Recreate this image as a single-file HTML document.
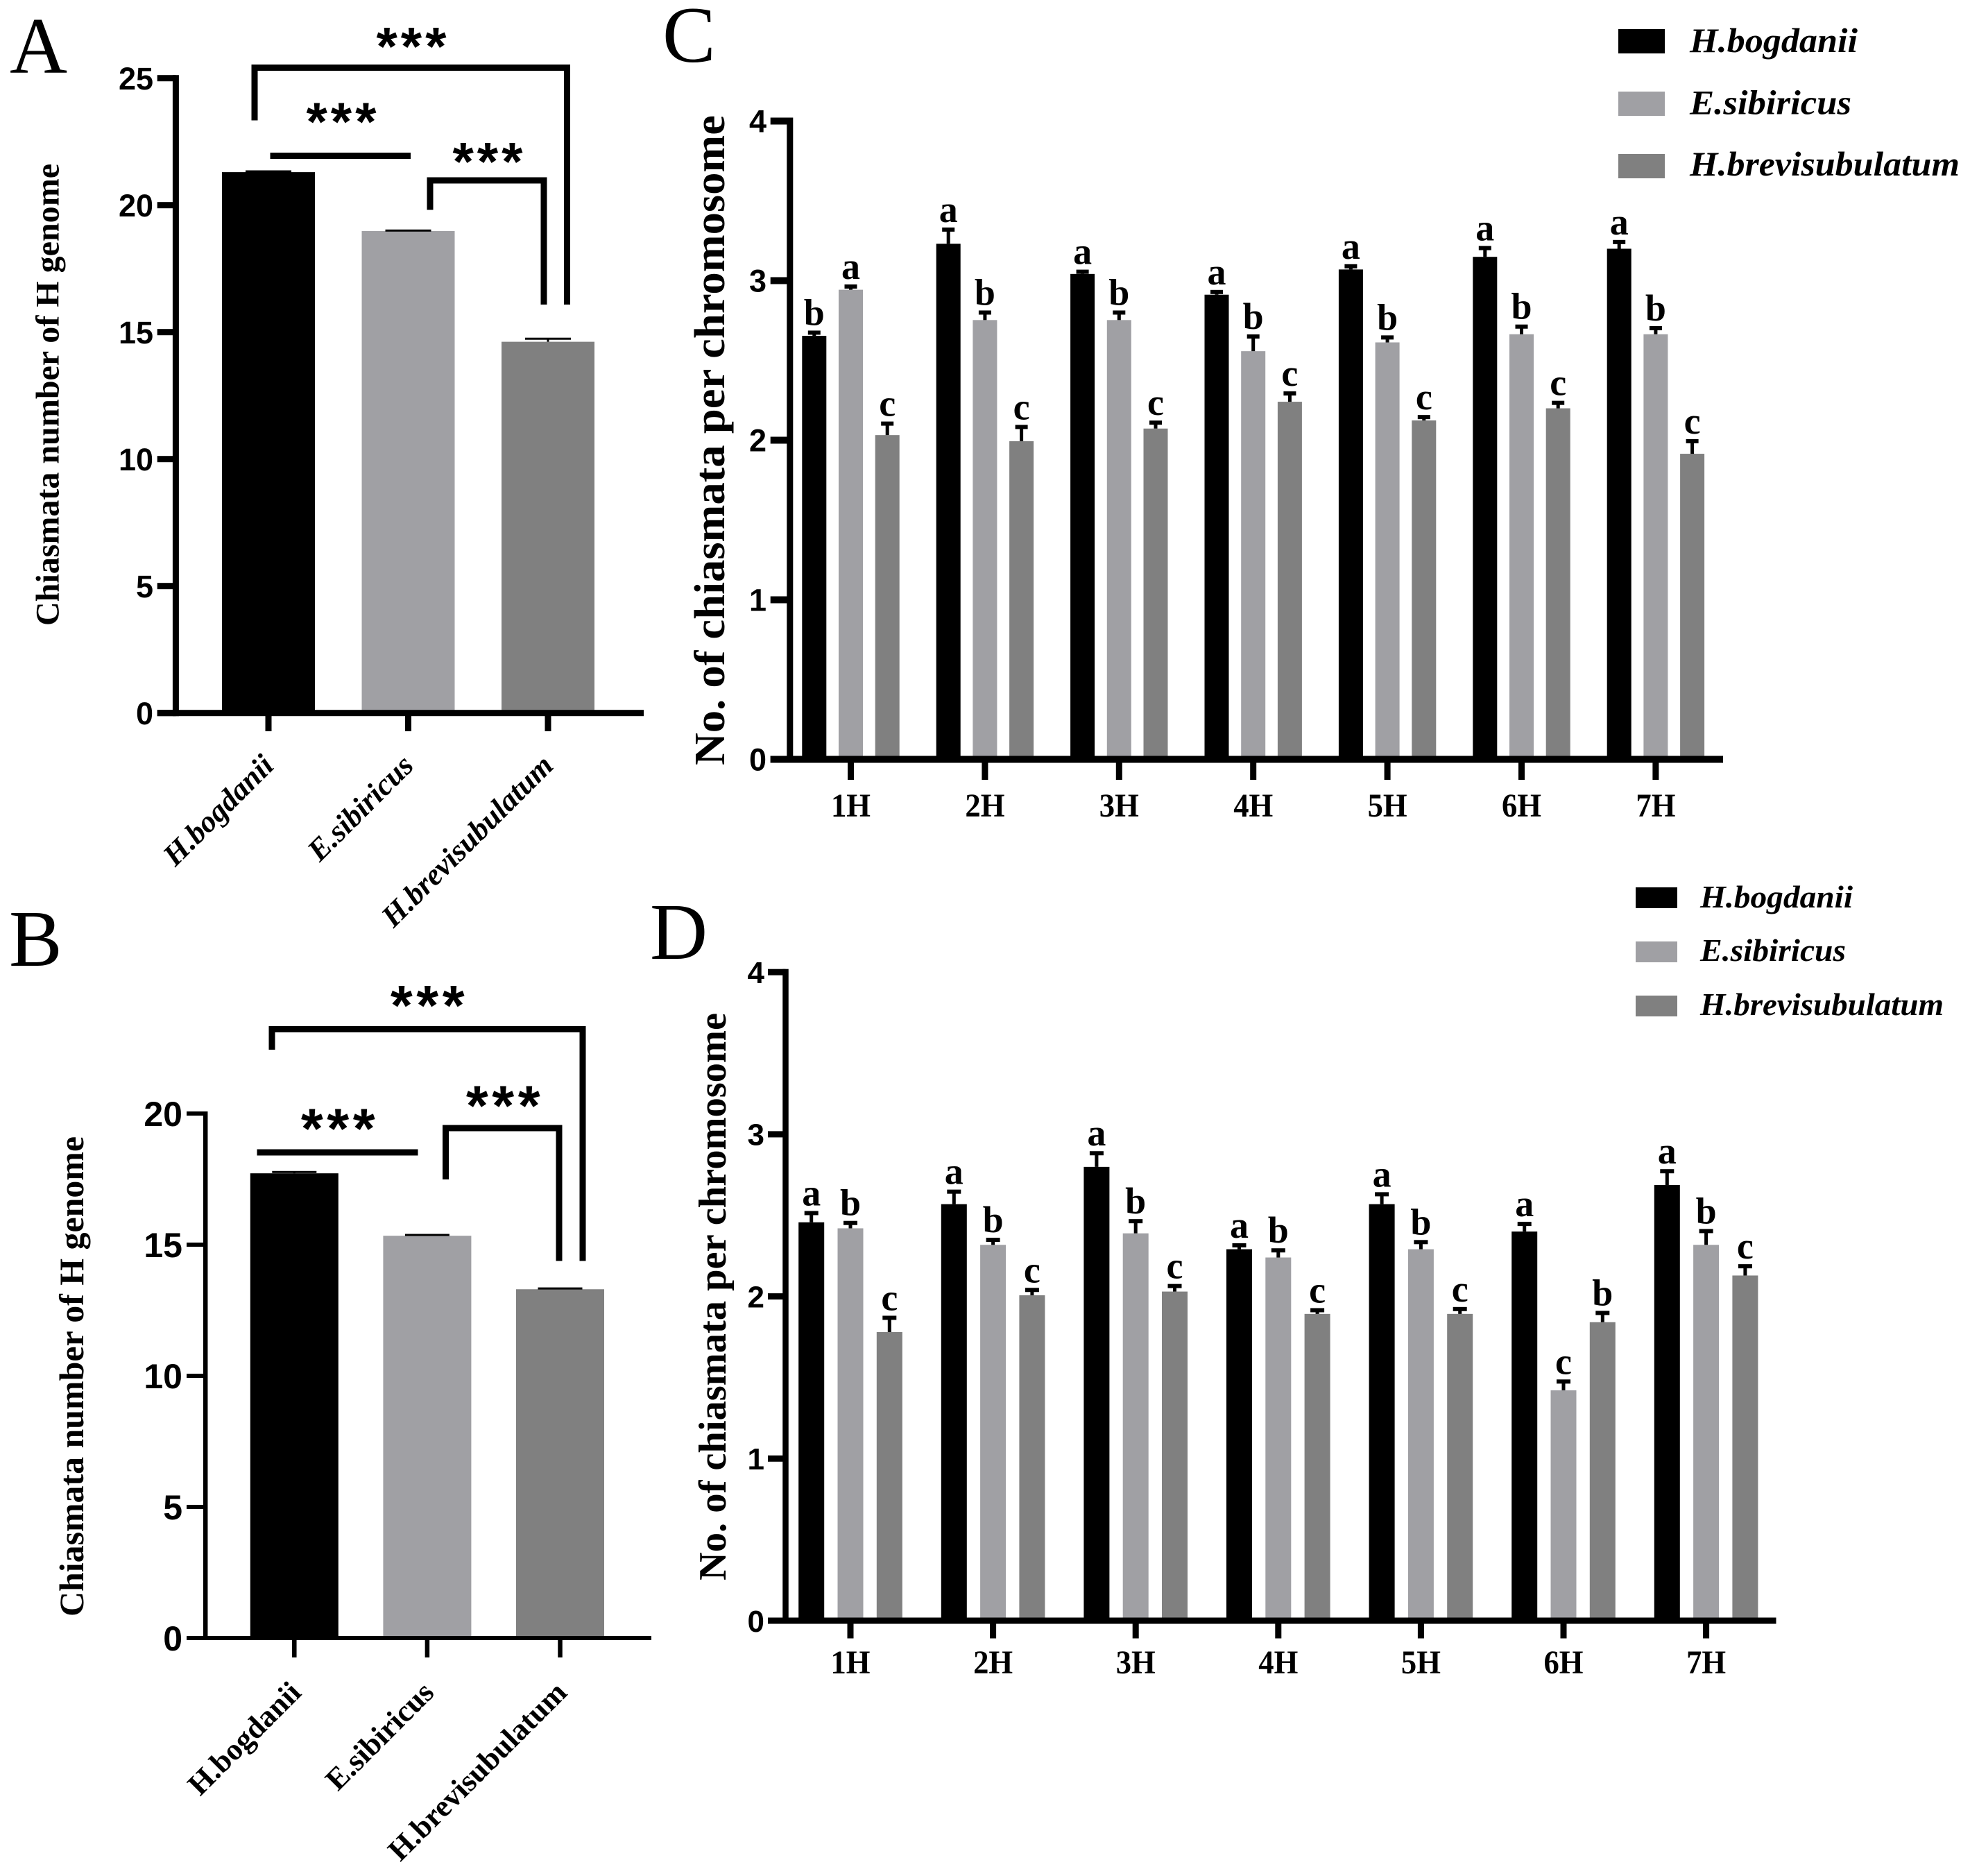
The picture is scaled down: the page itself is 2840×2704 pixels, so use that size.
<!DOCTYPE html>
<html lang="en">
<head>
<meta charset="utf-8">
<title>Chiasmata number charts</title>
<style>
html,body{margin:0;padding:0;background:#fff;}
svg{display:block;}
.serif{font-family:"Liberation Serif",serif;}
.sans{font-family:"Liberation Sans",sans-serif;}
.bold{font-weight:bold;}
.ital{font-style:italic;}
</style>
</head>
<body>
<svg id="figure" xmlns="http://www.w3.org/2000/svg" width="2840" height="2704" viewBox="0 0 2840 2704">
  <rect x="0" y="0" width="2840" height="2704" fill="#ffffff"/>

  <g id="panelA"></g>
  <g id="panelB"></g>
  <g id="panelC"></g>
  <g id="panelD"></g>

  <g class="serif" font-size="115" fill="#000">
    <text x="14" y="105">A</text>
    <text x="13" y="1392">B</text>
    <text x="955" y="89">C</text>
    <text x="937" y="1382">D</text>
  </g>

  <g class="serif bold" fill="#000">
    <text transform="translate(84.5 902) rotate(-90)" font-size="48" textLength="666" lengthAdjust="spacingAndGlyphs">Chiasmata number of H genome</text>
    <text transform="translate(120 2330) rotate(-90)" font-size="50" textLength="692" lengthAdjust="spacingAndGlyphs">Chiasmata number of H genome</text>
    <text transform="translate(1044 1103) rotate(-90)" font-size="62" textLength="937" lengthAdjust="spacingAndGlyphs">No. of chiasmata per chromosome</text>
    <text transform="translate(1046 2278) rotate(-90)" font-size="56" textLength="818" lengthAdjust="spacingAndGlyphs">No. of chiasmata per chromosome</text>
  </g>

  <g fill="none" stroke="#000" stroke-width="9">
    <path d="M367 173.5V97.5H817.5V439"/>
    <path d="M389.5 224.5H592"/>
    <path d="M620 302.5V260H784V439"/>
  </g>
  <g class="sans bold" font-size="78" letter-spacing="5" text-anchor="middle" fill="#000">
    <text x="595.5" y="93.5">***</text>
    <text x="494.5" y="202">***</text>
    <text x="705.5" y="259.5">***</text>
  </g>

  <g fill="none" stroke="#000" stroke-width="9">
    <path d="M392 1513V1483.5H840V1817.5"/>
    <path d="M370.5 1661H602.5"/>
    <path d="M642.5 1700V1626H806V1817.5"/>
  </g>
  <g class="sans bold" font-size="82" letter-spacing="5.5" text-anchor="middle" fill="#000">
    <text x="619" y="1477.5">***</text>
    <text x="490" y="1655">***</text>
    <text x="728" y="1622">***</text>
  </g>

  <g>
    <rect x="2333" y="42" width="67" height="35" fill="#000000"/>
    <rect x="2333" y="132" width="67" height="35" fill="#a0a0a4"/>
    <rect x="2333" y="222" width="67" height="35" fill="#808080"/>
    <g class="serif bold ital" font-size="50" fill="#000">
      <text x="2436" y="75" textLength="242" lengthAdjust="spacingAndGlyphs">H.bogdanii</text>
      <text x="2436" y="164.5" textLength="233" lengthAdjust="spacingAndGlyphs">E.sibiricus</text>
      <text x="2436" y="253" textLength="389" lengthAdjust="spacingAndGlyphs">H.brevisubulatum</text>
    </g>
  </g>

  <g>
    <rect x="2358" y="1279" width="60" height="30" fill="#000000"/>
    <rect x="2358" y="1357" width="60" height="30" fill="#a0a0a4"/>
    <rect x="2358" y="1435" width="60" height="30" fill="#808080"/>
    <g class="serif bold ital" font-size="46" fill="#000">
      <text x="2451" y="1308" textLength="220" lengthAdjust="spacingAndGlyphs">H.bogdanii</text>
      <text x="2451" y="1385" textLength="210" lengthAdjust="spacingAndGlyphs">E.sibiricus</text>
      <text x="2451" y="1463" textLength="351" lengthAdjust="spacingAndGlyphs">H.brevisubulatum</text>
    </g>
  </g>
</svg>

<script>
// ---- Panel A data ----
const speciesNames = ['H.bogdanii', 'E.sibiricus', 'H.brevisubulatum'];
const speciesColors = ['#000000', '#a0a0a4', '#808080'];
const aValues = [21.3, 18.98, 14.62];
const aErrors = [0.03, 0.02, 0.12];
const aTicks = [0, 5, 10, 15, 20, 25];

// ---- Panel B data ----
const bValues = [17.72, 15.34, 13.3];
const bErrors = [0.05, 0.03, 0.03];
const bTicks = [0, 5, 10, 15, 20];

// ---- Panel C data ----
const chromosomes = ['1H', '2H', '3H', '4H', '5H', '6H', '7H'];
const groupTicks = [0, 1, 2, 3, 4];
const cBogdanii = [2.654, 3.231, 3.042, 2.912, 3.07, 3.149, 3.2];
const cSibiricus = [2.943, 2.753, 2.753, 2.558, 2.613, 2.664, 2.664];
const cBrevi = [2.032, 1.994, 2.073, 2.241, 2.124, 2.2, 1.915];
const cBogdaniiErr = [0.02, 0.089, 0.014, 0.017, 0.02, 0.055, 0.042];
const cSibiricusErr = [0.02, 0.047, 0.047, 0.092, 0.031, 0.048, 0.038];
const cBreviErr = [0.072, 0.089, 0.037, 0.052, 0.021, 0.034, 0.079];
const cBogdaniiLetters = ['b', 'a', 'a', 'a', 'a', 'a', 'a'];
const cSibiricusLetters = ['a', 'b', 'b', 'b', 'b', 'b', 'b'];
const cBreviLetters = ['c', 'c', 'c', 'c', 'c', 'c', 'c'];

// ---- Panel D data ----
const dBogdanii = [2.457, 2.569, 2.799, 2.291, 2.569, 2.4, 2.687];
const dSibiricus = [2.42, 2.318, 2.389, 2.24, 2.291, 1.421, 2.318];
const dBrevi = [1.78, 2.007, 2.03, 1.892, 1.892, 1.841, 2.129];
const dBogdaniiErr = [0.057, 0.077, 0.084, 0.024, 0.061, 0.047, 0.085];
const dSibiricusErr = [0.033, 0.031, 0.075, 0.044, 0.044, 0.054, 0.085];
const dBreviErr = [0.088, 0.033, 0.034, 0.023, 0.03, 0.057, 0.057];
const dBogdaniiLetters = ['a', 'a', 'a', 'a', 'a', 'a', 'a'];
const dSibiricusLetters = ['b', 'b', 'b', 'b', 'b', 'c', 'b'];
const dBreviLetters = ['c', 'c', 'c', 'c', 'c', 'b', 'c'];

const NS = 'http://www.w3.org/2000/svg';

function make(parent, tag, attrs, text) {
  const node = document.createElementNS(NS, tag);
  for (const k in attrs) node.setAttribute(k, attrs[k]);
  if (text !== undefined) node.textContent = text;
  parent.appendChild(node);
  return node;
}

function drawAxes(g, id, L, ticks, scaleY) {
  const yAxis = make(g, 'rect', {
    x: L.axisX - L.axisW / 2,
    y: scaleY(ticks[ticks.length - 1]) - L.axisH / 2,
    width: L.axisW,
    height: scaleY(0) - scaleY(ticks[ticks.length - 1]) + L.axisH,
    fill: '#000'
  });
  
  

  const xAxis = make(g, 'rect', {
    x: L.tickLeft,
    y: scaleY(0) - L.axisH / 2,
    width: L.axisRight - L.tickLeft,
    height: L.axisH,
    fill: '#000'
  });
  
  

  ticks.forEach(function (t) {
    const mark = make(g, 'rect', {
      x: L.tickLeft,
      y: scaleY(t) - L.axisH / 2,
      width: L.axisX - L.tickLeft,
      height: L.axisH,
      fill: '#000'
    });
    
    

    const label = make(g, 'text', {
      x: L.labelRight,
      y: scaleY(t) + L.tickFont * 0.36,
      'text-anchor': 'end',
      'font-size': L.tickFont,
      'font-weight': 'bold',
      'font-family': '"Liberation Sans", sans-serif',
      fill: '#000'
    }, String(t));
    
    
  });
}

function drawBar(g, name, cx, width, value, error, color, capW, capH, stemW, scaleY) {
  const bar = make(g, 'rect', {
    x: cx - width / 2,
    y: scaleY(value),
    width: width,
    height: scaleY(0) - scaleY(value),
    fill: color
  });
  
  

  const stem = make(g, 'rect', {
    x: cx - stemW / 2,
    y: scaleY(value + error),
    width: stemW,
    height: scaleY(value) - scaleY(value + error),
    fill: '#000'
  });
  
  

  const cap = make(g, 'rect', {
    x: cx - capW / 2,
    y: scaleY(value + error) - capH / 2,
    width: capW,
    height: capH,
    fill: '#000'
  });
  
  
}

function drawSimple(id, L, values, errors, ticks) {
  const g = document.getElementById('panel' + id.toUpperCase());
  const scaleY = function (v) { return L.y0 - v * L.unit; };
  const scaleX = function (i) { return L.x0 + i * L.step; };

  values.forEach(function (v, i) {
    drawBar(g, id + '-' + speciesNames[i], scaleX(i), L.barW, v, errors[i], speciesColors[i], L.capW, 3, 3, scaleY);
  });
  drawAxes(g, id, L, ticks, scaleY);

  speciesNames.forEach(function (name, i) {
    const t = make(g, 'rect', {
      x: scaleX(i) - L.axisW / 2,
      y: L.y0,
      width: L.axisW,
      height: L.tickBottom - L.y0,
      fill: '#000'
    });
    
    

    const lx = scaleX(i) + L.catDx;
    const label = make(g, 'text', {
      transform: 'translate(' + lx + ' ' + L.catY + ') rotate(-45)',
      'text-anchor': 'end',
      'font-size': L.catFont,
      'font-weight': 'bold',
      'font-style': L.catStyle,
      'font-family': '"Liberation Serif", serif',
      fill: '#000'
    }, name);
    
    
  });
}

function drawGrouped(id, L, series, errs, letters) {
  const g = document.getElementById('panel' + id.toUpperCase());
  const scaleY = function (v) { return L.y0 - v * L.unit; };
  const scaleX = function (i) { return L.x0 + i * L.step; };

  series.forEach(function (vals, s) {
    vals.forEach(function (v, i) {
      const cx = scaleX(i) + (s - 1) * L.offset;
      const nm = id + '-' + chromosomes[i] + '-' + speciesNames[s];
      drawBar(g, nm, cx, L.barW, v, errs[s][i], speciesColors[s], L.capW, 6, 5, scaleY);

      const letter = make(g, 'text', {
        x: cx,
        y: scaleY(v + errs[s][i]) - 11,
        'text-anchor': 'middle',
        'font-size': L.letterFont,
        'font-weight': 'bold',
        'font-family': '"Liberation Serif", serif',
        fill: '#000'
      }, letters[s][i]);
      
      
    });
  });
  drawAxes(g, id, L, groupTicks, scaleY);

  chromosomes.forEach(function (name, i) {
    const t = make(g, 'rect', {
      x: scaleX(i) - 4.5,
      y: L.y0,
      width: 9,
      height: L.tickBottom - L.y0,
      fill: '#000'
    });
    
    

    const label = make(g, 'text', {
      x: scaleX(i),
      y: L.catY,
      'text-anchor': 'middle',
      'font-size': L.catFont,
      'font-weight': 'bold',
      'font-family': '"Liberation Serif", serif',
      fill: '#000',
      textLength: 57,
      lengthAdjust: 'spacingAndGlyphs'
    }, name);
    
    
  });
}

drawSimple('a', {
  x0: 387, step: 201.5, barW: 134, capW: 66,
  y0: 1027.7, unit: 36.6,
  axisX: 253.4, axisW: 9, axisH: 9, tickLeft: 226.7, axisRight: 928, tickBottom: 1054,
  labelRight: 221, tickFont: 45,
  catDx: 10, catY: 1106, catFont: 44, catStyle: 'italic'
}, aValues, aErrors, aTicks);

drawSimple('b', {
  x0: 424.3, step: 191.6, barW: 127, capW: 64,
  y0: 2361, unit: 37.8,
  axisX: 296.2, axisW: 6.5, axisH: 6, tickLeft: 269, axisRight: 939, tickBottom: 2389,
  labelRight: 263, tickFont: 50,
  catDx: 12, catY: 2442, catFont: 44, catStyle: 'normal'
}, bValues, bErrors, bTicks);

drawGrouped('c', {
  x0: 1226.5, step: 193.4, offset: 52.7, barW: 35, capW: 18,
  y0: 1094.5, unit: 230,
  axisX: 1138.8, axisW: 9, axisH: 10, tickLeft: 1110.7, axisRight: 2484, tickBottom: 1124,
  labelRight: 1105, tickFont: 45,
  catY: 1177, catFont: 48, letterFont: 54
}, [cBogdanii, cSibiricus, cBrevi], [cBogdaniiErr, cSibiricusErr, cBreviErr],
   [cBogdaniiLetters, cSibiricusLetters, cBreviLetters]);

drawGrouped('d', {
  x0: 1226, step: 205.6, offset: 56.3, barW: 37, capW: 20,
  y0: 2336, unit: 233.7,
  axisX: 1132.5, axisW: 8.5, axisH: 9, tickLeft: 1107, axisRight: 2560.5, tickBottom: 2361.5,
  labelRight: 1102, tickFont: 44,
  catY: 2412, catFont: 48, letterFont: 54
}, [dBogdanii, dSibiricus, dBrevi], [dBogdaniiErr, dSibiricusErr, dBreviErr],
   [dBogdaniiLetters, dSibiricusLetters, dBreviLetters]);
</script>
</body>
</html>
